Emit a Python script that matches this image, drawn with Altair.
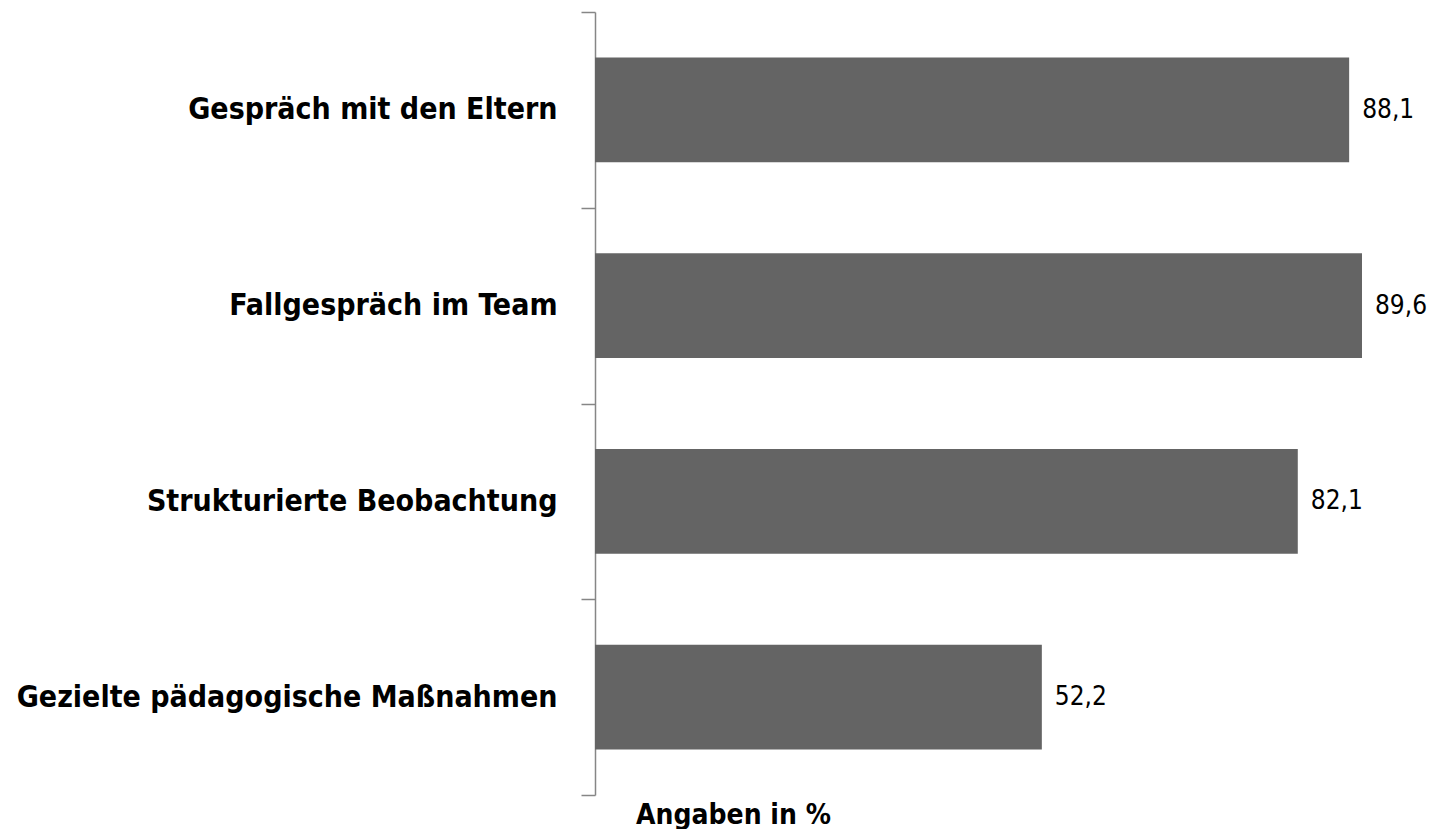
import altair as alt
import pandas as pd

categories = ["Gespräch mit den Eltern", "Fallgespräch im Team",
              "Strukturierte Beobachtung", "Gezielte pädagogische Maßnahmen"]
values = [88.1, 89.6, 82.1, 52.2]
labels = ["88,1", "89,6", "82,1", "52,2"]

df = pd.DataFrame({"cat": categories, "val": values, "lab": labels})

FONT = "Liberation Sans Narrow, Arial Narrow, DejaVu Sans Condensed, sans-serif"

y = alt.Y("cat:N", sort=categories,
          scale=alt.Scale(paddingInner=0, paddingOuter=0),
          axis=alt.Axis(title=None, tickBand="extent", tickSize=14,
                        domainColor="#868686", tickColor="#868686",
                        domainWidth=1.5, tickWidth=1.5,
                        labelFont=FONT, labelFontSize=30, labelFontWeight="bold",
                        labelColor="#000000", labelPadding=24, labelLimit=600))

x = alt.X("val:Q", scale=alt.Scale(domain=[0, 91.12], nice=False),
          axis=alt.Axis(title="Angaben in %", labels=False, ticks=False, domain=False,
                        grid=False, titleFont=FONT, titleFontSize=28,
                        titleFontWeight="bold", titleColor="#000000",
                        titleX=138, titleY=28, titleAlign="center",
                        titleBaseline="alphabetic"))

bars = alt.Chart(df).mark_bar(color="#646464",
                              height=alt.RelativeBandSize(0.535)).encode(x=x, y=y)

text = alt.Chart(df).mark_text(align="left", baseline="middle", dx=13,
                               font=FONT, fontSize=26, color="#000000").encode(
    x="val:Q", y=alt.Y("cat:N", sort=categories), text="lab:N")

chart = (bars + text).properties(
    width=780, height=783,
    autosize=alt.AutoSizeParams(type="none"),
    padding={"left": 587, "top": 4, "right": 54, "bottom": 34},
).configure_view(stroke=None)

chart.save("out.html", embed_options={"renderer": "svg", "actions": False})
